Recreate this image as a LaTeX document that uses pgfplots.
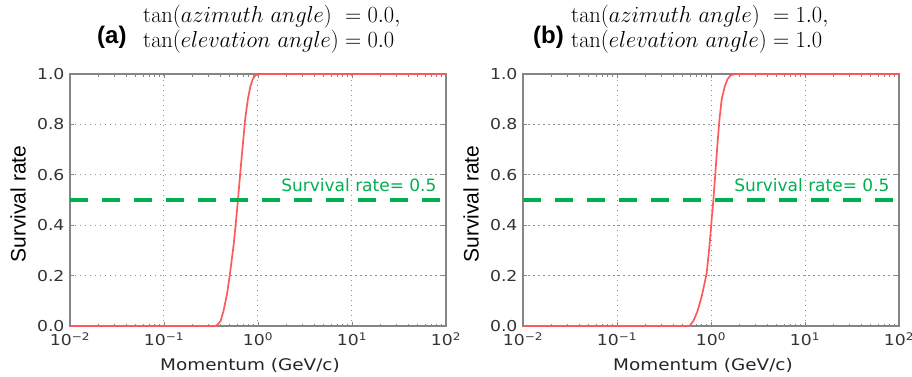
\RequirePackage{fix-cm}
\documentclass[border=0pt]{standalone}
\usepackage[no-math]{fontspec}
\usepackage{amsmath}
\usepackage{pgfplots}
\pgfplotsset{compat=1.18}
\setmainfont{DejaVu Sans}
\newfontfamily\widefont{DejaVu Sans}[FakeStretch=1.15]
\newfontfamily\arialfont{Liberation Sans}
\definecolor{curvered}{HTML}{FF5A5A}
\definecolor{dashgreen}{HTML}{00B050}
\definecolor{framegray}{HTML}{858585}
\definecolor{gridgray}{HTML}{909090}

\begin{document}
\begin{tikzpicture}[x=1pt,y=1pt]
\path[use as bounding box] (0,0) rectangle (912,376);

% ---------- (a) ----------
\begin{axis}[
    at={(70pt,50pt)}, anchor=south west,
    xmode=log, scale only axis, width=376pt, height=252pt,
    xmin=0.01, xmax=100, ymin=0, ymax=1,
    xtick={0.01,0.1,1,10,100},
    xticklabels={10\textsuperscript{−2},10\textsuperscript{−1},10\textsuperscript{0},10\textsuperscript{1},10\textsuperscript{2}},
    ytick={0,0.2,0.4,0.6,0.8,1},
    yticklabels={0.0,0.2,0.4,0.6,0.8,1.0},
    grid=major,
    major grid style={gridgray, line width=1pt, dash pattern=on 1.5pt off 3.5pt},
    axis line style={framegray, line width=1.2pt},
    tick style={framegray, line width=0.8pt},
    major tick length=4pt, minor tick length=2.5pt,
    tick align=inside,
    ticklabel style={font=\widefont\fontsize{15}{15}\selectfont, text=black!80},
    xticklabel style={yshift=-3pt},
    yticklabel style={xshift=-2pt},
  ]
  \addplot[curvered, line width=1.7pt] coordinates {
    (0.01,0) (0.36,0) (0.40,0.02) (0.43,0.06) (0.47,0.13) (0.50,0.2)
    (0.55,0.32) (0.585,0.42) (0.612,0.5) (0.645,0.6) (0.69,0.72)
    (0.73,0.82) (0.78,0.9) (0.83,0.95) (0.88,0.98) (0.94,0.995)
    (1.0,1.0) (100,1.0)};
  \addplot[dashgreen, line width=4pt, dash pattern=on 18pt off 14pt] coordinates {(0.01,0.5) (100,0.5)};
  \node[anchor=east, text=dashgreen, font=\fontsize{17}{17}\selectfont, xshift=-6pt] at (axis cs:100,0.56) {Survival rate= 0.5};
\end{axis}

% ---------- (b) ----------
\begin{axis}[
    at={(523pt,50pt)}, anchor=south west,
    xmode=log, scale only axis, width=376pt, height=252pt,
    xmin=0.01, xmax=100, ymin=0, ymax=1,
    xtick={0.01,0.1,1,10,100},
    xticklabels={10\textsuperscript{−2},10\textsuperscript{−1},10\textsuperscript{0},10\textsuperscript{1},10\textsuperscript{2}},
    ytick={0,0.2,0.4,0.6,0.8,1},
    yticklabels={0.0,0.2,0.4,0.6,0.8,1.0},
    grid=major,
    major grid style={gridgray, line width=1pt, dash pattern=on 1.5pt off 3.5pt},
    axis line style={framegray, line width=1.2pt},
    tick style={framegray, line width=0.8pt},
    major tick length=4pt, minor tick length=2.5pt,
    tick align=inside,
    ticklabel style={font=\widefont\fontsize{15}{15}\selectfont, text=black!80},
    xticklabel style={yshift=-3pt},
    yticklabel style={xshift=-2pt},
  ]
  \addplot[curvered, line width=1.7pt] coordinates {
    (0.01,0) (0.59,0) (0.65,0.02) (0.72,0.06) (0.80,0.12) (0.90,0.21)
    (0.97,0.33) (1.02,0.43) (1.06,0.5) (1.11,0.6) (1.17,0.72)
    (1.23,0.82) (1.30,0.9) (1.40,0.95) (1.50,0.98) (1.62,0.995)
    (1.8,1.0) (100,1.0)};
  \addplot[dashgreen, line width=4pt, dash pattern=on 18pt off 14pt] coordinates {(0.01,0.5) (100,0.5)};
  \node[anchor=east, text=dashgreen, font=\fontsize{17}{17}\selectfont, xshift=-6pt] at (axis cs:100,0.56) {Survival rate= 0.5};
\end{axis}

% axis labels
\node[rotate=90, font=\arialfont\fontsize{21}{21}\selectfont] at (18,172) {Survival rate};
\node[rotate=90, font=\arialfont\fontsize{21}{21}\selectfont] at (471,172) {Survival rate};
\node[font=\widefont\fontsize{16}{16}\selectfont, text=black!85] at (250,11) {Momentum (GeV/c)};
\node[font=\widefont\fontsize{16}{16}\selectfont, text=black!85] at (703,11) {Momentum (GeV/c)};

% titles
\node[anchor=west, inner sep=0pt, font=\arialfont\bfseries\fontsize{24}{24}\selectfont] at (97,339) {(a)};
\node[anchor=west, inner sep=0pt, xscale=1.07, yscale=1.1, font=\fontsize{21}{23}\selectfont] at (143,346)
  {$\begin{array}{@{}l@{\;}l@{}}
    \tan(azimuth\ angle) & = 0.0,\\
    \tan(elevation\ angle) & = 0.0
  \end{array}$};
\node[anchor=west, inner sep=0pt, font=\arialfont\bfseries\fontsize{24}{24}\selectfont] at (533,339) {(b)};
\node[anchor=west, inner sep=0pt, xscale=1.07, yscale=1.1, font=\fontsize{21}{23}\selectfont] at (571,346)
  {$\begin{array}{@{}l@{\;}l@{}}
    \tan(azimuth\ angle) & = 1.0,\\
    \tan(elevation\ angle) & = 1.0
  \end{array}$};
\end{tikzpicture}
\end{document}
